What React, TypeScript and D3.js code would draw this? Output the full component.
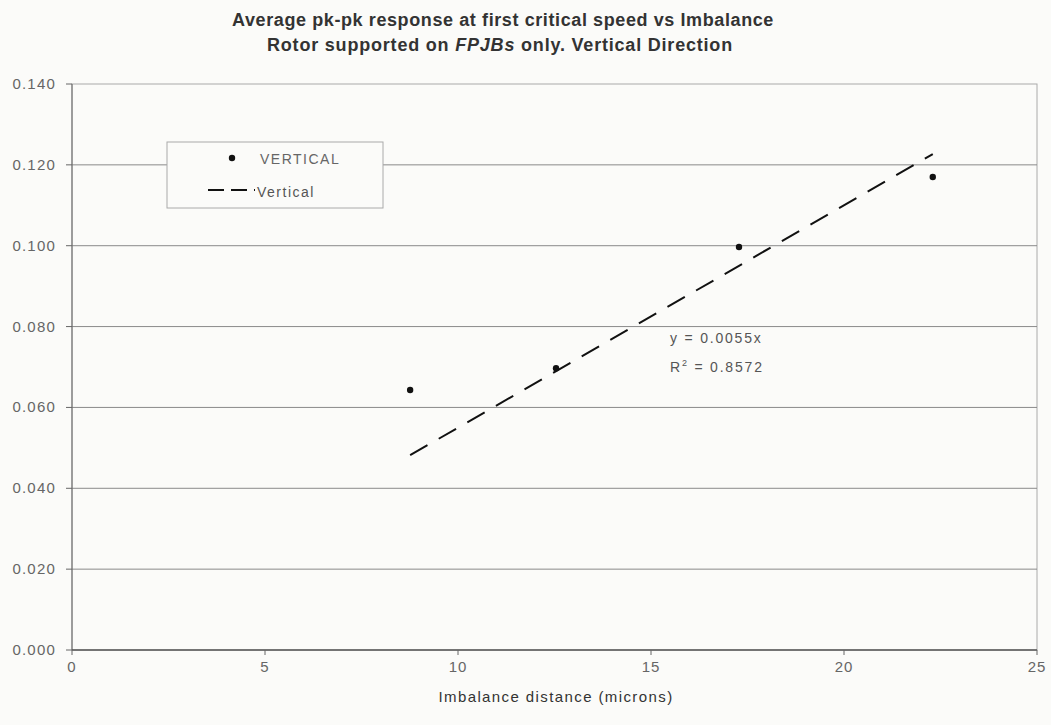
import React from "react";
import * as d3 from "d3";

// Measured pk-pk response for each imbalance distance (vertical direction)
const imbalanceMicrons = [8.76, 12.54, 17.28, 22.3];
const responseVertical = [0.0643, 0.0697, 0.0997, 0.117];

// Linear trend forced through the origin
const trendSlope = 0.0055;
const trendR2 = 0.8572;

const xTicks = [0, 5, 10, 15, 20, 25];
const yTicks = [0, 0.02, 0.04, 0.06, 0.08, 0.1, 0.12, 0.14];

const titleLine1 = "Average pk-pk response at first critical speed vs Imbalance";
const xAxisTitle = "Imbalance distance (microns)";
const legendLabels = ["VERTICAL", "Vertical"];

const W = 1051;
const H = 725;
const margin = { left: 72, right: 14, top: 84, bottom: 75 };

export default function App() {
  const x = d3
    .scaleLinear()
    .domain([0, 25])
    .range([margin.left, W - margin.right]);
  const y = d3
    .scaleLinear()
    .domain([0, 0.14])
    .range([H - margin.bottom, margin.top]);

  const fmtY = d3.format(".3f");
  const font = "'Liberation Sans', Arial, sans-serif";

  const xMin = d3.min(imbalanceMicrons) as number;
  const xMax = d3.max(imbalanceMicrons) as number;
  const trendPts: [number, number][] = [
    [xMin, trendSlope * xMin],
    [xMax, trendSlope * xMax],
  ];
  const trendLine = d3
    .line<[number, number]>()
    .x((d) => x(d[0]))
    .y((d) => y(d[1]));

  const legend = { x: 167, y: 142, w: 216, h: 66 };

  return (
    <svg
      width={W}
      height={H}
      style={{ position: "absolute", left: 0, top: 0, display: "block" }}
      fontFamily={font}
    >
      <rect x={0} y={0} width={W} height={H} fill="#fbfbf9" />

      {/* Title */}
      <text
        x={503}
        y={26}
        textAnchor="middle"
        fontSize={18}
        fontWeight="bold"
        letterSpacing={0.6}
        fill="#333"
      >
        {titleLine1}
      </text>
      <text
        x={500}
        y={51}
        textAnchor="middle"
        fontSize={18}
        fontWeight="bold"
        letterSpacing={0.8}
        fill="#333"
      >
        <tspan>Rotor supported on </tspan>
        <tspan fontStyle="italic">FPJBs</tspan>
        <tspan> only. Vertical Direction</tspan>
      </text>

      {/* Plot frame */}
      <rect
        x={margin.left}
        y={margin.top}
        width={W - margin.right - margin.left}
        height={H - margin.bottom - margin.top}
        fill="none"
        stroke="#aaa"
        strokeWidth={1}
      />

      {/* Horizontal gridlines and y ticks */}
      {yTicks.map((t) => (
        <g key={t}>
          {t > 0 && t < 0.14 && (
            <line
              x1={margin.left}
              x2={W - margin.right}
              y1={y(t)}
              y2={y(t)}
              stroke="#8a8a8a"
              strokeWidth={1}
            />
          )}
          <line
            x1={margin.left - 6}
            x2={margin.left}
            y1={y(t)}
            y2={y(t)}
            stroke="#666"
          />
          <text
            x={56}
            y={y(t) + 5}
            textAnchor="end"
            fontSize={15}
            letterSpacing={1.2}
            fill="#666"
          >
            {fmtY(t)}
          </text>
        </g>
      ))}

      {/* Axis lines */}
      <line
        x1={margin.left}
        x2={margin.left}
        y1={margin.top}
        y2={H - margin.bottom}
        stroke="#666"
      />
      <line
        x1={margin.left}
        x2={W - margin.right}
        y1={H - margin.bottom}
        y2={H - margin.bottom}
        stroke="#555"
        strokeWidth={1.5}
      />

      {/* x ticks */}
      {xTicks.map((t) => (
        <g key={t}>
          <line
            x1={x(t)}
            x2={x(t)}
            y1={H - margin.bottom}
            y2={H - margin.bottom + 5}
            stroke="#666"
          />
          <text
            x={x(t)}
            y={H - margin.bottom + 22}
            textAnchor="middle"
            fontSize={15}
            letterSpacing={1}
            fill="#666"
          >
            {t}
          </text>
        </g>
      ))}

      <text
        x={556}
        y={702}
        textAnchor="middle"
        fontSize={15}
        letterSpacing={1.4}
        fill="#333"
      >
        {xAxisTitle}
      </text>

      {/* Trend line */}
      <path
        d={trendLine(trendPts) as string}
        fill="none"
        stroke="#111"
        strokeWidth={2}
        strokeDasharray="20,13"
      />

      {/* Data points */}
      {imbalanceMicrons.map((v, i) => (
        <circle
          key={i}
          cx={x(v)}
          cy={y(responseVertical[i])}
          r={3.2}
          fill="#111"
        />
      ))}

      {/* Trend equation */}
      <text x={670} y={343} fontSize={14} letterSpacing={1.8} fill="#555">
        y = {trendSlope}x
      </text>
      <text x={670} y={372} fontSize={14} letterSpacing={1.8} fill="#555">
        R<tspan dy={-6} fontSize={9}>2</tspan>
        <tspan dy={6}> = {trendR2}</tspan>
      </text>

      {/* Legend */}
      <rect
        x={legend.x}
        y={legend.y}
        width={legend.w}
        height={legend.h}
        fill="#fbfbf9"
        stroke="#aaa"
      />
      <circle cx={232} cy={158} r={3.2} fill="#111" />
      <text x={260} y={164} fontSize={14} letterSpacing={1.5} fill="#666">
        {legendLabels[0]}
      </text>
      <line
        x1={208}
        x2={255}
        y1={190}
        y2={190}
        stroke="#111"
        strokeWidth={2}
        strokeDasharray="16,7"
      />
      <text x={257} y={197} fontSize={14} letterSpacing={1.5} fill="#555">
        {legendLabels[1]}
      </text>
    </svg>
  );
}
